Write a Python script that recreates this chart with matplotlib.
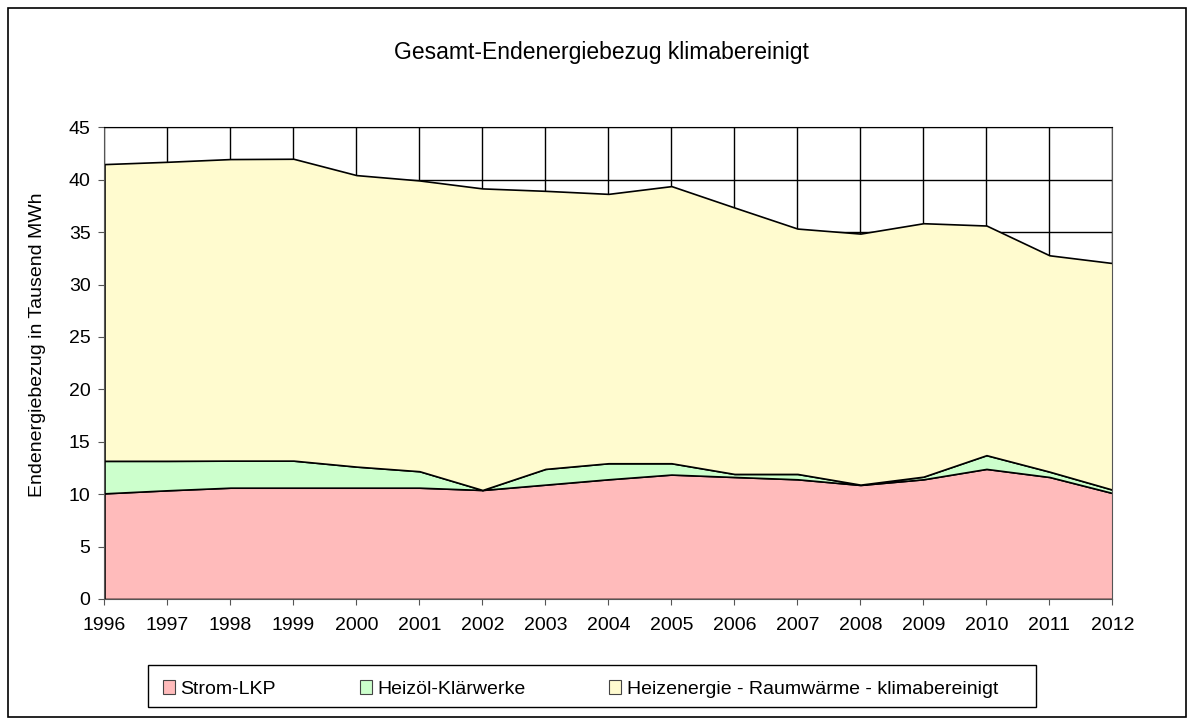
import matplotlib.pyplot as plt
from matplotlib.patches import Rectangle

plt.rcParams['font.family'] = ['Liberation Sans', 'DejaVu Sans']

# data (Tausend MWh)
years = list(range(1996, 2013))
strom = [10.08, 10.37, 10.62, 10.62, 10.62, 10.62, 10.40, 10.91, 11.42,
         11.87, 11.64, 11.42, 10.88, 11.42, 12.41, 11.64, 10.11]
heizoel = [3.10, 2.81, 2.58, 2.58, 2.01, 1.57, 0.00, 1.50, 1.53,
           1.08, 0.29, 0.51, 0.03, 0.25, 1.31, 0.51, 0.32]
heizenergie = [28.31, 28.53, 28.77, 28.80, 27.81, 27.74, 28.77, 26.53, 25.70,
               26.44, 25.42, 23.41, 23.95, 24.18, 21.91, 20.64, 21.62]
labels = ["Strom-LKP", "Heizöl-Klärwerke", "Heizenergie - Raumwärme - klimabereinigt"]
colors = ["#FFBBBB", "#CCFFCC", "#FFFBCF"]

fig = plt.figure(figsize=(11.94, 7.25), dpi=100)
# outer frame round the whole chart
fig.patches.append(Rectangle((0.007, 0.011), 0.986, 0.978, transform=fig.transFigure,
                             fill=False, edgecolor="black", linewidth=1.2))

ax = fig.add_axes([0.0875, 0.1738, 0.8442, 0.6506])
ax.set_axisbelow(True)
ax.grid(True, color="black", linewidth=1.0)

ax.stackplot(years, strom, heizoel, heizenergie, colors=colors,
             edgecolor="black", linewidth=1.2, labels=labels)

ax.set_xlim(1996, 2012)
ax.set_ylim(0, 45)
ax.set_xticks(years)
ax.set_yticks(range(0, 46, 5))
ax.tick_params(axis="both", labelsize=14, direction="out", length=4, color="#555555")
ax.tick_params(axis="x", pad=9)
ax.tick_params(axis="y", pad=6)
for s in ax.spines.values():
    s.set_color("#555555")
ax.spines["top"].set_color("black")

fig.text(0.0314, 0.5248, "Endenergiebezug in Tausend MWh", rotation=90,
         ha="center", va="center", fontsize=14)
fig.text(0.5035, 0.9186, "Gesamt-Endenergiebezug klimabereinigt", ha="center",
         va="baseline", fontsize=16.5)

# legend box drawn separately, entries placed inside it
fig.patches.append(Rectangle((0.124, 0.0248), 0.7437, 0.0579, transform=fig.transFigure,
                             fill=False, edgecolor="black", linewidth=1.0))
leg = fig.legend(loc="center left", bbox_to_anchor=(0.128, 0.0497), ncol=3, fontsize=14,
                 frameon=False, handlelength=0.62, handleheight=0.77,
                 handletextpad=0.3, columnspacing=4.3, borderpad=0)
for h in leg.legend_handles:
    h.set_edgecolor("#444444")
    h.set_linewidth(0.8)

fig.savefig("out.png", dpi=100)
